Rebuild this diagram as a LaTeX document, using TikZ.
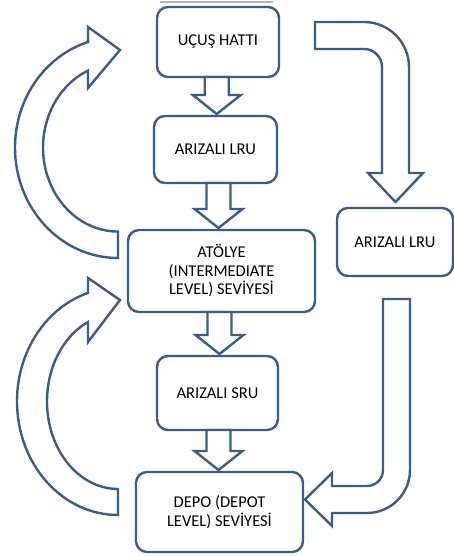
\documentclass[tikz,border=0pt]{standalone}
\usepackage{fontspec}
\setmainfont{Carlito}
\usetikzlibrary{calc}

\definecolor{lineblue}{RGB}{56,93,138}
\tikzset{
  box/.style={draw=lineblue, line width=2.4pt, rounded corners=11pt, fill=white,
    align=center, inner sep=2pt, outer sep=0pt,
    font=\fontsize{16.5}{18.5}\selectfont},
  blockarrow/.style={draw=lineblue, line width=2.4pt, fill=white}
}
\newcommand{\blockdown}[2]{%
  \draw[blockarrow] let \p1=(#1.south), \p2=(#2.north), \p3=($(#1.south)!.5!(#2.north)$) in
    (\x3-12pt,\y1) -- (\x3-12pt,\y2+21pt) -- (\x3-24pt,\y2+21pt) -- (\x3,\y2+2pt)
    -- (\x3+24pt,\y2+21pt) -- (\x3+12pt,\y2+21pt) -- (\x3+12pt,\y1) -- cycle;}

\begin{document}
\begin{tikzpicture}[x=1pt,y=-1pt]
   \useasboundingbox (0,0) rectangle (454,556);
   \draw[line width=2pt, lineblue!45] (160,2) -- (273,2);

   \node[box, minimum width=122pt, minimum height=70pt] (hat) at (218,42) {UÇUŞ HATTI};
   \node[box, minimum width=123pt, minimum height=67pt] (lru) at (215.5,149.5) {ARIZALI LRU};
   \node[box, minimum width=187pt, minimum height=82pt] (atolye) at (221.5,271) {ATÖLYE\\(INTERMEDIATE\\LEVEL) SEVİYESİ};
   \node[box, minimum width=121pt, minimum height=74pt] (sru) at (217.5,393) {ARIZALI SRU};
   \node[box, minimum width=167pt, minimum height=80pt] (depo) at (219.5,512) {DEPO (DEPOT\\LEVEL) SEVİYESİ};
   \node[box, minimum width=116pt, minimum height=68pt] (lrusag) at (395,242) {ARIZALI LRU};

   \blockdown{hat}{lru}
   \blockdown{lru}{atolye}
   \blockdown{atolye}{sru}
   \blockdown{sru}{depo}

   % right side
   \draw[blockarrow] (315,22) -- (364,22) arc[start angle=270, end angle=360, radius=45]
     -- (409,173) -- (423,173) -- (395.5,202) -- (368,173) -- (382,173) -- (382,67)
     arc[start angle=0, end angle=-90, radius=18] -- (315,49) -- cycle;
   \draw[blockarrow] (383,299) -- (410,299) -- (410,470) arc[start angle=0, end angle=90, radius=43]
     -- (332,513) -- (332,526) -- (305,499.5) -- (332,473) -- (332,486) -- (367,486)
     arc[start angle=90, end angle=0, radius=16] -- cycle;

   % left side
   \draw[blockarrow] (118,258) arc[start angle=90, end angle=253.1, x radius=103, y radius=110.4]
     -- (88,27) -- (120,50) -- (88,88) -- (88,70.6)
     arc[start angle=246.4, end angle=90, x radius=75, y radius=84] -- cycle;
   \draw[blockarrow] (118,515) arc[start angle=90, end angle=252.7, x radius=101, y radius=113.6]
     -- (88,278) -- (120,300) -- (88,342) -- (88,322)
     arc[start angle=245, end angle=90, x radius=71, y radius=87.6] -- cycle;
\end{tikzpicture}
\end{document}
